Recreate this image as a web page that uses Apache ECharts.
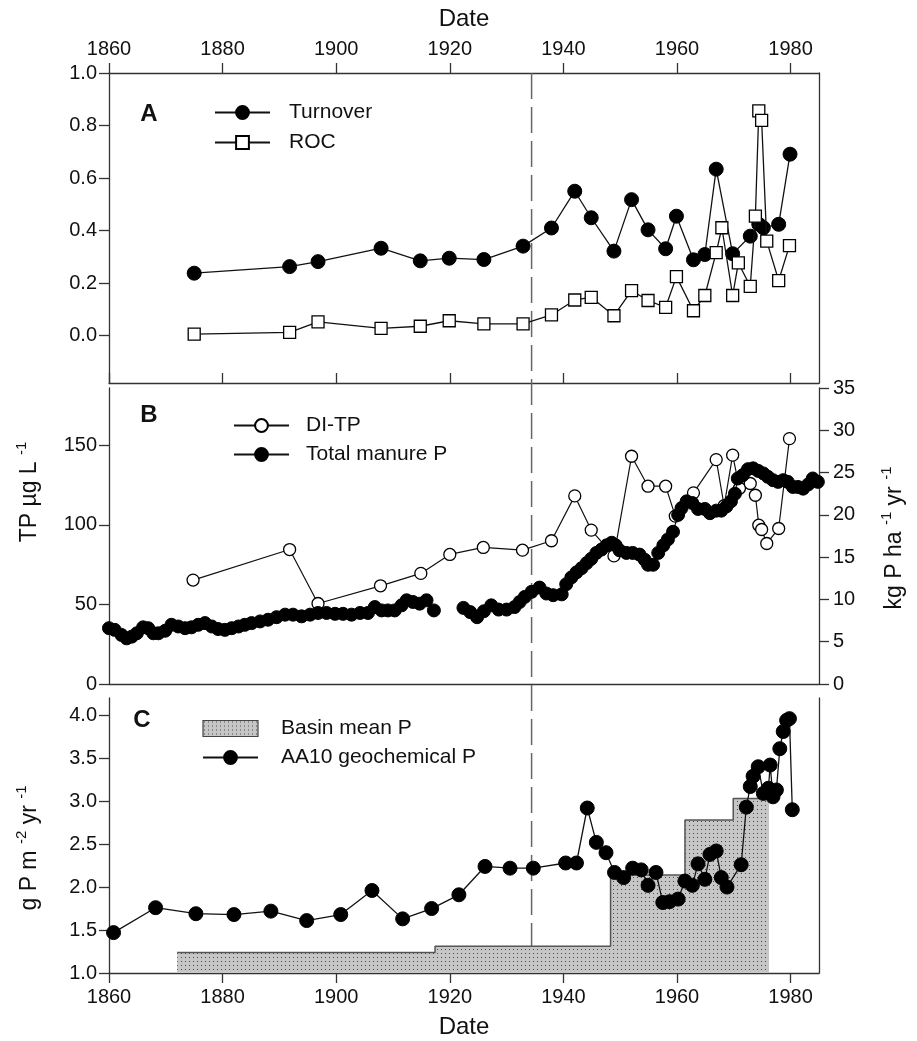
<!DOCTYPE html>
<html>
<head>
<meta charset="utf-8">
<script src="https://cdn.jsdelivr.net/npm/echarts@6/dist/echarts.min.js"></script>
<style>
  html, body { margin: 0; padding: 0; background: #fff; }
  #chart { width: 917px; height: 1041px; }
</style>
</head>
<body>
<div id="chart"></div>
<script>
// ---- data ----
var yearTicks = [1860, 1880, 1900, 1920, 1940, 1960, 1980];
var dashYear = 1934.4;

// panel A
var turnYears = [1875.0, 1891.8, 1896.8, 1907.9, 1914.8, 1919.9, 1926.0, 1932.9, 1937.9, 1942.0, 1944.9, 1948.9, 1952.0, 1954.9, 1958.0, 1959.9, 1962.9, 1964.9, 1966.9, 1969.8, 1972.9, 1974.4, 1975.2, 1977.9, 1979.9];
var turnover = [0.238, 0.263, 0.282, 0.333, 0.285, 0.295, 0.29, 0.341, 0.41, 0.55, 0.449, 0.322, 0.518, 0.403, 0.331, 0.455, 0.289, 0.309, 0.634, 0.312, 0.379, 0.424, 0.411, 0.424, 0.691];
var rocYears = [1875.0, 1891.8, 1896.8, 1907.9, 1914.8, 1919.9, 1926.0, 1932.9, 1937.9, 1942.0, 1944.9, 1948.9, 1952.0, 1954.9, 1958.0, 1959.9, 1962.9, 1964.9, 1966.9, 1967.9, 1969.8, 1970.8, 1972.9, 1973.8, 1974.4, 1974.9, 1975.8, 1977.9, 1979.8];
var roc = [0.006, 0.013, 0.053, 0.028, 0.036, 0.057, 0.045, 0.045, 0.079, 0.136, 0.146, 0.076, 0.172, 0.134, 0.108, 0.225, 0.095, 0.153, 0.316, 0.411, 0.153, 0.277, 0.188, 0.455, 0.856, 0.82, 0.36, 0.21, 0.343];
var ticksA = [0, 0.2, 0.4, 0.6, 0.8, 1.0];

// panel B
var tpYears = [1874.8, 1891.8, 1896.8, 1907.8, 1914.9, 1920.0, 1925.9, 1932.8, 1937.9, 1942.0, 1944.9, 1948.9, 1952.0, 1954.9, 1958.0, 1959.7, 1962.9, 1966.9, 1968.3, 1969.8, 1971.0, 1972.9, 1973.8, 1974.4, 1974.9, 1975.8, 1977.9, 1979.8];
var diTP = [65.3, 84.5, 50.6, 61.7, 69.5, 81.4, 85.8, 84.1, 90, 118.2, 96.7, 80.5, 143.1, 124.3, 124.3, 105.5, 120.1, 141, 112, 143.8, 123, 126, 118.6, 99.8, 97.1, 88.3, 97.7, 154.2];
var manureYears1 = [1860.0, 1861.0, 1862.2, 1863.1, 1864.0, 1864.9, 1866.0, 1866.9, 1867.8, 1868.7, 1869.9, 1871.0, 1872.2, 1873.4, 1874.5, 1875.7, 1876.9, 1878.1, 1879.2, 1880.4, 1881.6, 1882.8, 1883.9, 1885.1, 1886.6, 1888.0, 1889.5, 1891.0, 1892.4, 1893.9, 1895.4, 1896.8, 1898.3, 1899.8, 1901.2, 1902.7, 1904.2, 1905.6, 1906.8, 1908.0, 1909.1, 1910.3, 1911.5, 1912.4, 1913.5, 1914.7, 1915.9, 1917.2];
var manureP1 = [6.6, 6.4, 5.8, 5.4, 5.6, 6.0, 6.7, 6.6, 6.0, 6.0, 6.3, 7.0, 6.8, 6.6, 6.7, 7.0, 7.2, 6.8, 6.5, 6.4, 6.6, 6.8, 7.0, 7.2, 7.4, 7.6, 7.9, 8.2, 8.2, 8.0, 8.2, 8.4, 8.4, 8.3, 8.3, 8.2, 8.4, 8.4, 9.1, 8.7, 8.7, 8.7, 9.3, 9.9, 9.7, 9.5, 9.9, 8.7];
var manureYears2 = [1922.4, 1923.6, 1924.8, 1926.0, 1927.3, 1928.6, 1930.0, 1931.4, 1932.3, 1933.2, 1934.4, 1935.8, 1937.0, 1938.2, 1939.7, 1940.5, 1941.4, 1942.3, 1943.2, 1944.1, 1944.9, 1945.8, 1946.7, 1947.6, 1948.5, 1949.2, 1949.9, 1951.1, 1952.2, 1953.4, 1954.3, 1954.9, 1955.8, 1956.7, 1957.6, 1958.4, 1959.3, 1960.2, 1960.8, 1961.7, 1962.7, 1963.7, 1964.9, 1965.8, 1966.9, 1967.8, 1968.7, 1969.5, 1970.2, 1970.7, 1971.6, 1972.5, 1973.4, 1974.3, 1975.2, 1976.0, 1976.9, 1977.8, 1978.7, 1979.5, 1980.4, 1981.3, 1982.2, 1983.1, 1983.9, 1984.8];
var manureP2 = [9.0, 8.5, 7.9, 8.6, 9.3, 8.8, 8.8, 9.1, 9.7, 10.3, 10.9, 11.4, 10.7, 10.5, 10.6, 11.8, 12.6, 13.2, 13.7, 14.3, 14.8, 15.5, 15.9, 16.4, 16.7, 16.4, 15.8, 15.5, 15.5, 15.3, 14.7, 14.1, 14.1, 15.5, 16.4, 17.1, 18.0, 20.0, 20.8, 21.6, 21.4, 20.7, 20.7, 20.2, 20.5, 20.5, 21.0, 21.6, 22.5, 24.3, 24.7, 25.4, 25.5, 25.2, 24.9, 24.5, 24.1, 23.9, 24.1, 23.9, 23.3, 23.3, 23.1, 23.6, 24.3, 23.9];
var ticksTP = [0, 50, 100, 150];
var ticksKg = [0, 5, 10, 15, 20, 25, 30, 35];

// panel C
var aaYears = [1860.8, 1868.2, 1875.3, 1882.0, 1888.5, 1894.8, 1900.8, 1906.3, 1911.7, 1916.8, 1921.6, 1926.2, 1930.6, 1934.7, 1940.4, 1942.3, 1944.2, 1945.8, 1947.5, 1949.0, 1950.6, 1952.2, 1953.7, 1954.9, 1956.3, 1957.5, 1958.7, 1960.2, 1961.4, 1962.7, 1963.7, 1964.9, 1965.8, 1966.9, 1967.8, 1968.8, 1971.3, 1972.2, 1972.9, 1973.4, 1974.3, 1975.2, 1976.1, 1976.4, 1976.9, 1977.5, 1978.1, 1978.7, 1979.3, 1979.8, 1980.3];
var aa10P = [1.47, 1.76, 1.69, 1.68, 1.72, 1.61, 1.68, 1.96, 1.63, 1.75, 1.91, 2.24, 2.22, 2.22, 2.28, 2.28, 2.92, 2.52, 2.40, 2.17, 2.11, 2.22, 2.20, 2.02, 2.17, 1.82, 1.83, 1.86, 2.07, 2.02, 2.27, 2.09, 2.38, 2.42, 2.11, 2.00, 2.26, 2.93, 3.17, 3.29, 3.40, 3.09, 3.15, 3.42, 3.05, 3.13, 3.61, 3.81, 3.94, 3.96, 2.90];
var basinStart = [1872.0, 1917.4, 1948.3, 1961.4, 1969.9];
var basinEnd = 1976.2;
var basinP = [1.24, 1.31, 2.14, 2.78, 3.03];
var ticksC = [1.0, 1.5, 2.0, 2.5, 3.0, 3.5, 4.0];

// ---- helpers ----
function pairs(xs, ys) {
  return xs.map(function (x, i) { return [x, ys[i]]; });
}
var basinData = [];
basinP.forEach(function (v, i) {
  var end = i < basinStart.length - 1 ? basinStart[i + 1] : basinEnd;
  basinData.push([basinStart[i], v], [end, v]);
});

// stippled grey fill
function stipple() {
  var c = document.createElement('canvas');
  c.width = 4; c.height = 4;
  var ctx = c.getContext('2d');
  ctx.fillStyle = '#c6c6c6';
  ctx.fillRect(0, 0, 4, 4);
  ctx.fillStyle = '#4a4a4a';
  ctx.fillRect(1, 1, 1, 1);
  return c;
}
var dots = { image: stipple(), repeat: 'repeat' };

var FONT = '"Liberation Sans", Arial, sans-serif';
var INK = '#111';
var AX = '#333';
var axisLine = { show: true, onZero: false, lineStyle: { color: AX, width: 1.3 } };
var tick = function (vals, inside) {
  return { show: true, inside: !!inside, length: 10, customValues: vals, lineStyle: { color: AX, width: 1.3 } };
};
var label = function (vals, fmt, margin) {
  return { show: true, customValues: vals, formatter: fmt || function (v) { return String(v); },
    margin: margin || 12, color: INK, fontSize: 20, fontFamily: FONT };
};
var fix1 = function (v) { return v.toFixed(1); };
var nameStyle = { color: INK, fontSize: 24, fontFamily: FONT };

var xBase = { type: 'value', min: 1860, max: 1985, splitLine: { show: false }, axisLine: axisLine };

var chart = echarts.init(document.getElementById('chart'));

var option = {
  animation: false,
  backgroundColor: '#fff',
  grid: [
    { left: 109, width: 710, top: 73, height: 310 },
    { left: 109, width: 710, top: 388, height: 296 },
    { left: 109, width: 710, top: 698, height: 275 }
  ],
  xAxis: [
    Object.assign({}, xBase, { gridIndex: 0, position: 'top', axisTick: tick(yearTicks),
      axisLabel: label(yearTicks, null, 14),
      name: 'Date', nameLocation: 'middle', nameGap: 42, nameTextStyle: nameStyle }),
    Object.assign({}, xBase, { gridIndex: 0, position: 'bottom', axisTick: tick(yearTicks, true),
      axisLabel: { show: false } }),
    Object.assign({}, xBase, { gridIndex: 1, position: 'bottom', axisTick: { show: false },
      axisLabel: { show: false } }),
    Object.assign({}, xBase, { gridIndex: 2, position: 'bottom', axisTick: tick(yearTicks),
      axisLabel: label(yearTicks, null, 14),
      name: 'Date', nameLocation: 'middle', nameGap: 42, nameTextStyle: nameStyle })
  ],
  yAxis: [
    { type: 'value', gridIndex: 0, position: 'left', min: -0.18, max: 1.0, splitLine: { show: false },
      axisLine: axisLine, axisTick: tick(ticksA), axisLabel: label(ticksA, fix1) },
    { type: 'value', gridIndex: 0, position: 'right', min: -0.18, max: 1.0, splitLine: { show: false },
      axisLine: axisLine, axisTick: { show: false }, axisLabel: { show: false } },
    { type: 'value', gridIndex: 1, position: 'left', min: 0, max: 186, splitLine: { show: false },
      axisLine: axisLine, axisTick: tick(ticksTP), axisLabel: label(ticksTP) },
    { type: 'value', gridIndex: 1, position: 'right', min: 0, max: 35, splitLine: { show: false },
      axisLine: axisLine, axisTick: tick(ticksKg), axisLabel: label(ticksKg, null, 14) },
    { type: 'value', gridIndex: 2, position: 'left', min: 1.0, max: 4.2, splitLine: { show: false },
      axisLine: axisLine, axisTick: tick(ticksC), axisLabel: label(ticksC, fix1) },
    { type: 'value', gridIndex: 2, position: 'right', min: 1.0, max: 4.2, splitLine: { show: false },
      axisLine: axisLine, axisTick: { show: false }, axisLabel: { show: false } }
  ],
  legend: [
    { data: ['Turnover', 'ROC'], left: 209, top: 97, orient: 'vertical', itemWidth: 55, itemHeight: 16, itemGap: 9,
      textStyle: { color: INK, fontSize: 21, fontFamily: FONT, padding: [0, 0, 0, 14] } },
    { data: ['DI-TP', 'Total manure P'], left: 228, top: 410, orient: 'vertical', itemWidth: 55, itemHeight: 16, itemGap: 8,
      textStyle: { color: INK, fontSize: 21, fontFamily: FONT, padding: [0, 0, 0, 12] } },
    { data: [{ name: 'Basin mean P', icon: 'rect', itemStyle: { color: dots, borderColor: '#444', borderWidth: 1.2 } }, 'AA10 geochemical P'],
      left: 197, top: 713, orient: 'vertical', itemWidth: 55, itemHeight: 16, itemGap: 8,
      textStyle: { color: INK, fontSize: 21, fontFamily: FONT, padding: [0, 0, 0, 18] } }
  ],
  series: [
    { name: 'Turnover', type: 'line', xAxisIndex: 0, yAxisIndex: 0, data: pairs(turnYears, turnover),
      symbol: 'circle', symbolSize: 14, lineStyle: { color: INK, width: 1.3 },
      itemStyle: { color: '#000', borderColor: '#000', borderWidth: 1 }, z: 3 },
    { name: 'ROC', type: 'line', xAxisIndex: 0, yAxisIndex: 0, data: pairs(rocYears, roc),
      symbol: 'rect', symbolSize: 12, lineStyle: { color: INK, width: 1.3 },
      itemStyle: { color: '#fff', borderColor: '#000', borderWidth: 1.3 }, z: 4 },

    { name: 'DI-TP', type: 'line', xAxisIndex: 2, yAxisIndex: 2, data: pairs(tpYears, diTP),
      symbol: 'circle', symbolSize: 12, lineStyle: { color: INK, width: 1.2 },
      itemStyle: { color: '#fff', borderColor: '#000', borderWidth: 1.3 }, z: 3 },
    { name: 'Total manure P', type: 'line', xAxisIndex: 2, yAxisIndex: 3, data: pairs(manureYears1, manureP1),
      symbol: 'circle', symbolSize: 13, lineStyle: { color: INK, width: 1.2 },
      itemStyle: { color: '#000', borderColor: '#000', borderWidth: 1 }, z: 4 },
    { name: 'Total manure P', type: 'line', xAxisIndex: 2, yAxisIndex: 3, data: pairs(manureYears2, manureP2),
      symbol: 'circle', symbolSize: 13, lineStyle: { color: INK, width: 1.2 },
      itemStyle: { color: '#000', borderColor: '#000', borderWidth: 1 }, z: 4 },

    { name: 'Basin mean P', type: 'line', xAxisIndex: 3, yAxisIndex: 4, data: basinData,
      showSymbol: false, symbol: 'none', lineStyle: { color: '#555', width: 1.5 },
      areaStyle: { color: dots, opacity: 1, origin: 'start' }, itemStyle: { color: '#999' }, z: 2 },
    { name: 'AA10 geochemical P', type: 'line', xAxisIndex: 3, yAxisIndex: 4, data: pairs(aaYears, aa10P),
      symbol: 'circle', symbolSize: 14, lineStyle: { color: INK, width: 1.3 },
      itemStyle: { color: '#000', borderColor: '#000', borderWidth: 1 }, z: 4 }
  ],
  graphic: [
    { type: 'text', x: 149, y: 114, style: { text: 'A', fill: INK, font: 'bold 24px ' + FONT, align: 'center', verticalAlign: 'middle' } },
    { type: 'text', x: 149, y: 415, style: { text: 'B', fill: INK, font: 'bold 24px ' + FONT, align: 'center', verticalAlign: 'middle' } },
    { type: 'text', x: 142, y: 720, style: { text: 'C', fill: INK, font: 'bold 24px ' + FONT, align: 'center', verticalAlign: 'middle' } },
    { type: 'text', x: 28, y: 492, rotation: Math.PI / 2,
      style: { text: '{n|TP µg L }{s|-1}', align: 'center', verticalAlign: 'middle', fill: INK,
        rich: { n: { fontSize: 23, fontFamily: FONT, verticalAlign: 'bottom' },
                s: { fontSize: 15, fontFamily: FONT, verticalAlign: 'bottom', padding: [0, 0, 12, 0] } } } },
    { type: 'text', x: 28, y: 848, rotation: Math.PI / 2,
      style: { text: '{n|g P m }{s|-2}{n| yr }{s|-1}', align: 'center', verticalAlign: 'middle', fill: INK,
        rich: { n: { fontSize: 23, fontFamily: FONT, verticalAlign: 'bottom' },
                s: { fontSize: 15, fontFamily: FONT, verticalAlign: 'bottom', padding: [0, 0, 12, 0] } } } },
    { type: 'text', x: 893, y: 538, rotation: Math.PI / 2,
      style: { text: '{n|kg P ha }{s|-1}{n| yr }{s|-1}', align: 'center', verticalAlign: 'middle', fill: INK,
        rich: { n: { fontSize: 23, fontFamily: FONT, verticalAlign: 'bottom' },
                s: { fontSize: 15, fontFamily: FONT, verticalAlign: 'bottom', padding: [0, 0, 12, 0] } } } }
  ]
};

chart.setOption(option);

// dashed reference line through the panels, positioned by the axes
var pTop = chart.convertToPixel({ xAxisIndex: 0, yAxisIndex: 0 }, [dashYear, 1.0]);
var pBot = chart.convertToPixel({ xAxisIndex: 3, yAxisIndex: 4 }, [dashYear, 1.24]);
option.graphic.push({ type: 'line', z: 1,
  shape: { x1: pTop[0], y1: pTop[1], x2: pBot[0], y2: pBot[1] },
  style: { stroke: '#666', lineWidth: 1.5, lineDash: [26, 8] } });
chart.setOption({ graphic: option.graphic });
</script>
</body>
</html>
